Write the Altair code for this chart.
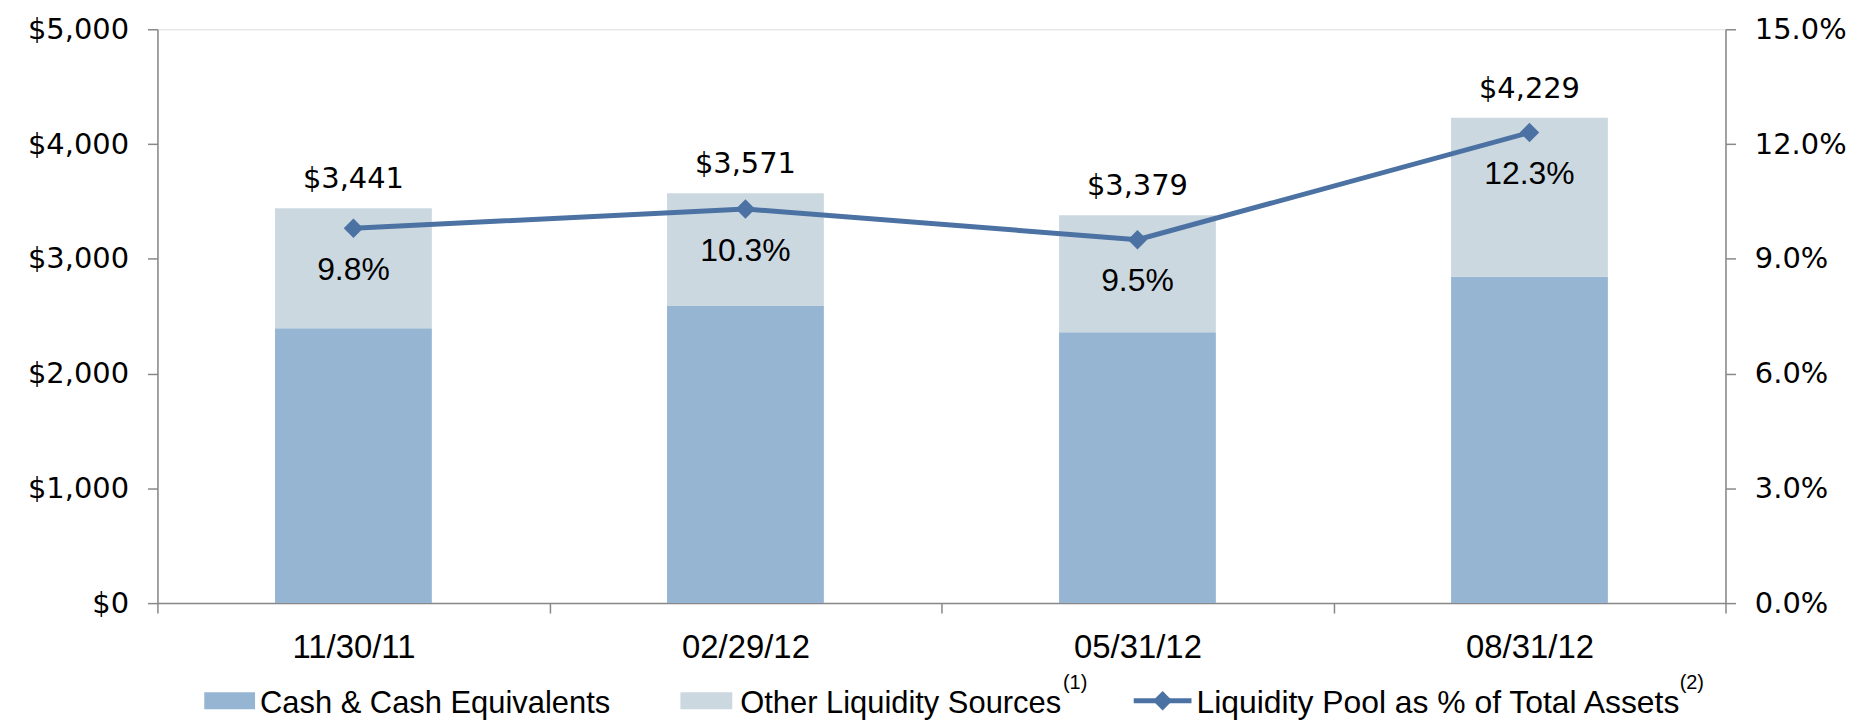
import altair as alt
import pandas as pd

# ---- data ----
dates = ["11/30/11", "02/29/12", "05/31/12", "08/31/12"]
cash = [2395, 2593, 2360, 2843]
other = [1046, 978, 1019, 1386]
totals = [3441, 3571, 3379, 4229]
pct = [0.098, 0.103, 0.095, 0.123]
series = ["Cash & Cash Equivalents", "Other Liquidity Sources"]
left_ticks = [0, 1000, 2000, 3000, 4000, 5000]
right_ticks = [0.0, 0.03, 0.06, 0.09, 0.12, 0.15]

CASH_C = "#95B5D3"
OTHER_C = "#CBD8E0"
LINE_C = "#4B72A3"
AXIS_C = "#888888"

rows = []
for i, d in enumerate(dates):
    rows.append({"date": d, "series": series[0], "value": cash[i], "ord": 0})
    rows.append({"date": d, "series": series[1], "value": other[i], "ord": 1})
bar_df = pd.DataFrame(rows)
tot_df = pd.DataFrame({"date": dates, "total": totals})
pct_df = pd.DataFrame({"date": dates, "pct": pct})
one = pd.DataFrame({"k": [0]})

x_axis = alt.Axis(title=None, labelAngle=0, tickBand="extent", tickSize=10,
                  labelPadding=19, labelFont="Liberation Sans", labelFontSize=33,
                  labelColor="#000000", domainColor=AXIS_C, tickColor=AXIS_C,
                  domainWidth=1.5, tickWidth=1.5)
x_enc = alt.X("date:N", sort=dates, scale=alt.Scale(paddingInner=0, paddingOuter=0), axis=x_axis)

left_axis = alt.Axis(title=None, values=left_ticks, format="$,.0f", grid=False,
                     tickSize=10, labelPadding=19, labelFont="DejaVu Sans",
                     labelFontSize=29, labelColor="#000000", domainColor=AXIS_C,
                     tickColor=AXIS_C, domainWidth=1.5, tickWidth=1.5)
left_scale = alt.Scale(domain=[0, 5000], nice=False)

right_axis = alt.Axis(title=None, orient="right", values=right_ticks, format=".1%",
                      grid=False, tickSize=10, labelPadding=19, labelFont="DejaVu Sans",
                      labelFontSize=29, labelColor="#000000", domainColor=AXIS_C,
                      tickColor=AXIS_C, domainWidth=1.5, tickWidth=1.5)
right_scale = alt.Scale(domain=[0, 0.15], nice=False)

bars = alt.Chart(bar_df).mark_bar(width={"band": 0.4}).encode(
    x=x_enc,
    y=alt.Y("value:Q", stack="zero", scale=left_scale, axis=left_axis),
    color=alt.Color("series:N", scale=alt.Scale(domain=series, range=[CASH_C, OTHER_C]), legend=None),
    order=alt.Order("ord:Q"),
)

tot_text = alt.Chart(tot_df).mark_text(font="DejaVu Sans", fontSize=29, baseline="alphabetic",
                                       dy=-20, color="#000000").encode(
    x=x_enc,
    y=alt.Y("total:Q", scale=left_scale, axis=left_axis),
    text=alt.Text("total:Q", format="$,.0f"),
)

# custom legend (layout only)
leg_y = 674
legend_layers = [
    alt.Chart(one).mark_rect(color=CASH_C).encode(
        x=alt.value(47), x2=alt.value(98), y=alt.value(leg_y - 8.5), y2=alt.value(leg_y + 8.5)),
    alt.Chart(one).mark_text(align="left", baseline="alphabetic", font="Liberation Sans",
                             fontSize=31, color="#000000").encode(
        x=alt.value(103), y=alt.value(leg_y + 12.5), text=alt.value(series[0])),
    alt.Chart(one).mark_rect(color=OTHER_C).encode(
        x=alt.value(525), x2=alt.value(577), y=alt.value(leg_y - 8.5), y2=alt.value(leg_y + 8.5)),
    alt.Chart(one).mark_text(align="left", baseline="alphabetic", font="Liberation Sans",
                             fontSize=31, color="#000000").encode(
        x=alt.value(585), y=alt.value(leg_y + 12.5), text=alt.value(series[1])),
    alt.Chart(one).mark_text(align="left", baseline="alphabetic", font="Liberation Sans",
                             fontSize=20, color="#000000").encode(
        x=alt.value(909), y=alt.value(leg_y - 11.5), text=alt.value("(1)")),
    alt.Chart(one).mark_rule(color=LINE_C, strokeWidth=5).encode(
        x=alt.value(980), x2=alt.value(1038), y=alt.value(leg_y)),
    alt.Chart(one).mark_point(shape="diamond", filled=True, opacity=1, size=380, color=LINE_C).encode(
        x=alt.value(1009), y=alt.value(leg_y)),
    alt.Chart(one).mark_text(align="left", baseline="alphabetic", font="Liberation Sans",
                             fontSize=32, color="#000000").encode(
        x=alt.value(1043), y=alt.value(leg_y + 12.5), text=alt.value("Liquidity Pool as % of Total Assets")),
    alt.Chart(one).mark_text(align="left", baseline="alphabetic", font="Liberation Sans",
                             fontSize=20, color="#000000").encode(
        x=alt.value(1528), y=alt.value(leg_y - 11.5), text=alt.value("(2)")),
]

left = alt.layer(bars, tot_text, *legend_layers)

line = alt.Chart(pct_df).mark_line(color=LINE_C, strokeWidth=5).encode(
    x=x_enc, y=alt.Y("pct:Q", scale=right_scale, axis=right_axis))
pts = alt.Chart(pct_df).mark_point(shape="diamond", filled=True, opacity=1, size=380,
                                   color=LINE_C).encode(
    x=x_enc, y=alt.Y("pct:Q", scale=right_scale, axis=right_axis))
pct_text = alt.Chart(pct_df).mark_text(font="Liberation Sans", fontSize=32, baseline="alphabetic",
                                       dy=52, color="#000000").encode(
    x=x_enc, y=alt.Y("pct:Q", scale=right_scale, axis=right_axis),
    text=alt.Text("pct:Q", format=".1%"))

right = alt.layer(line, pts, pct_text)

chart = alt.layer(left, right).resolve_scale(y="independent").properties(
    width=1574, height=576,
    padding={"left": 19, "top": 6, "right": 5, "bottom": 5},
).configure_view(stroke=None).configure(background="white")

chart.save("out.html", embed_options={"renderer": "svg", "actions": False})
